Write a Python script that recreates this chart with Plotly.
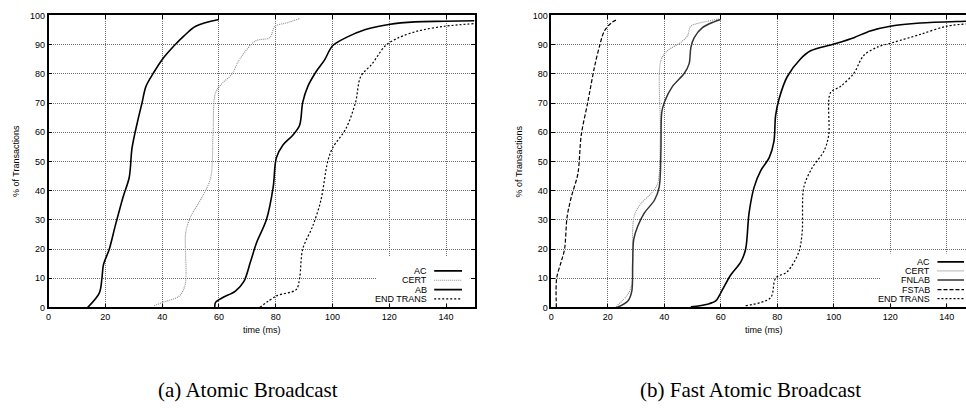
import plotly.graph_objects as go

# ---------------- data ----------------
# (a) Atomic Broadcast
ac_a_x = [13.8, 17.9, 18.8, 19.3, 21.4, 23.5, 26.3, 28.4, 29.4, 31.3, 32.9, 34.3, 37.2, 40.1, 44.2, 47.7, 51.8, 60.0]
ac_a_y = [0.0, 5, 10, 14.5, 20, 28, 38, 44.5, 54.6, 63.5, 70, 75.7, 80.7, 85, 89.6, 93, 96.3, 98.6]

cert_a_x = [37.2, 40.1, 46.0, 48.1, 48.3, 50.0, 54.2, 57.1, 57.9, 58.8, 61.2, 64.7, 66.4, 68.2, 72.9, 77.9, 79.7, 83.7, 88.4]
cert_a_y = [0.6, 1.7, 3.9, 7.8, 25.6, 31, 38, 44.5, 59, 73.5, 76.8, 80, 83.5, 86.3, 91.3, 92.4, 96.3, 97.4, 98.9]

ab_a_x = [58.5, 58.8, 61.2, 65.8, 68.8, 71.1, 73.3, 76.7, 79.1, 80.2, 82.6, 86.0, 88.4, 89.5, 91.3, 94.2, 97.1, 100.0, 104.7, 111.6, 119.8, 129.0, 139.5, 150]
ab_a_y = [0, 1.7, 3.3, 5.6, 8.9, 15.6, 22.3, 30, 41.2, 51.2, 55.7, 59, 62.4, 70.2, 75.7, 80.7, 84.6, 89.6, 92.4, 95.2, 96.9, 97.8, 98.0, 98.2]

end_a_x = [74.4, 80.2, 87.2, 88.4, 89.5, 93.0, 95.9, 98.3, 100.0, 104.7, 108.1, 109.9, 114.0, 118.6, 123.3, 130.2, 139.5, 150]
end_a_y = [0, 3.9, 6.1, 10, 20, 27.8, 36.7, 50, 54.6, 61.2, 70.2, 79, 83.5, 89.6, 92.4, 94.7, 96.3, 97.2]

# (b) Fast Atomic Broadcast
ac_b_x = [49.4, 55.3, 58.2, 60.0, 63.5, 67.1, 68.8, 70.0, 71.8, 74.1, 77.1, 78.8, 79.4, 80.6, 83.5, 88.2, 91.8, 100.0, 107.1, 112.9, 120.0, 130.6, 146.8, 150]
ac_b_y = [0.2, 1.1, 2.2, 5, 11.1, 15.6, 20, 32.3, 41.2, 46.8, 51.2, 56.8, 65.7, 71.3, 79, 85.1, 87.9, 90.2, 92.4, 94.7, 96.3, 97.4, 98.0, 98.1]

cert_b_x = [22.9, 27.1, 28.5, 29.3, 31.8, 35.3, 37.6, 38.6, 38.8, 41.2, 45.9, 48.2, 49.4, 55.3, 60.0]
cert_b_y = [0.2, 4.5, 7.8, 31.2, 35.6, 39, 42.3, 59, 84.6, 88, 90.8, 93, 96.3, 98, 98.9]

fnlab_b_x = [23.3, 27.1, 28.5, 28.8, 29.2, 30.6, 32.9, 36.5, 38.2, 38.8, 39.1, 40.0, 42.9, 47.1, 48.8, 49.4, 50.6, 53.5, 57.6, 60.0]
fnlab_b_y = [0, 2.2, 5.6, 14.5, 23.4, 27.8, 32.3, 36.7, 41.2, 53.5, 66.8, 70.2, 75.7, 80.2, 83.5, 89, 92.4, 95.8, 97.8, 98.6]

fstab_b_x = [1.8, 1.9, 3.5, 4.7, 5.6, 7.1, 9.4, 10.6, 12.9, 15.3, 17.1, 18.8, 21.2, 23.3]
fstab_b_y = [0, 10, 15.6, 20, 31, 37.9, 45.7, 59, 70.2, 82.4, 89.6, 94.7, 97.4, 98.6]

end_b_x = [68.8, 77.6, 79.4, 83.5, 87.6, 88.8, 89.4, 92.4, 96.5, 98.2, 98.8, 102.4, 107.1, 110.6, 115.3, 121.2, 130.6, 140.0, 150]
end_b_y = [0.6, 3.3, 10, 12.2, 18.9, 25.6, 41.2, 47.9, 53.5, 59, 73.5, 75.7, 80.2, 86.3, 89.1, 90.8, 93.5, 96.3, 97.3]

x_ticks = [0, 20, 40, 60, 80, 100, 120, 140]
y_ticks = [0, 10, 20, 30, 40, 50, 60, 70, 80, 90, 100]
x_title = "time (ms)"
y_title = "% of Transactions"
captions = ["(a) Atomic Broadcast", "(b) Fast Atomic Broadcast"]

# ---------------- styles ----------------
STY = {
    "AC": dict(color="black", width=1.6, dash="solid"),
    "CERT": dict(color="#8a8a8a", width=1.1, dash="1px,1px"),
    "AB": dict(color="black", width=1.6, dash="solid"),
    "FNLAB": dict(color="#333333", width=1.5, dash="solid"),
    "FSTAB": dict(color="black", width=1.2, dash="4px,2px"),
    "END TRANS": dict(color="black", width=1.2, dash="2px,2px"),
}

W, H = 966, 408
fig = go.Figure()

def add(x, y, name, xa, ya):
    s = STY[name]
    fig.add_trace(go.Scatter(
        x=x, y=y, mode="lines", name=name, showlegend=False, xaxis=xa, yaxis=ya,
        line=dict(color=s["color"], width=s["width"], dash=s["dash"], shape="spline", smoothing=0.9),
        hoverinfo="skip"))

add(ac_a_x, ac_a_y, "AC", "x", "y")
add(cert_a_x, cert_a_y, "CERT", "x", "y")
add(ab_a_x, ab_a_y, "AB", "x", "y")
add(end_a_x, end_a_y, "END TRANS", "x", "y")

add(ac_b_x, ac_b_y, "AC", "x2", "y2")
add(cert_b_x, cert_b_y, "CERT", "x2", "y2")
add(fnlab_b_x, fnlab_b_y, "FNLAB", "x2", "y2")
add(fstab_b_x, fstab_b_y, "FSTAB", "x2", "y2")
add(end_b_x, end_b_y, "END TRANS", "x2", "y2")

tickfont = dict(family="Liberation Sans, Arial, sans-serif", size=9, color="black")
ydom = [1 - 310 / H, 1 - 10.7 / H]

axis_common = dict(
    showline=True, linecolor="black", linewidth=1.5,
    ticks="inside", ticklen=4, tickcolor="black", tickwidth=1,
    showgrid=True, gridcolor="#6e6e6e", gridwidth=1, griddash="1px,1px",
    zeroline=False, tickfont=tickfont, fixedrange=True,
)

fig.update_layout(
    width=W, height=H, autosize=False,
    margin=dict(l=0, r=0, t=0, b=0),
    paper_bgcolor="white", plot_bgcolor="white",
    xaxis=dict(domain=[45.7 / W, 473 / W], range=[0, 150], tickvals=x_ticks, mirror="ticks", anchor="y", **axis_common),
    yaxis=dict(domain=ydom, range=[0, 100], tickvals=y_ticks, mirror="ticks", anchor="x", **axis_common),
    xaxis2=dict(domain=[550 / W, 1.0], range=[0, 146.8], tickvals=x_ticks, mirror="ticks", anchor="y2", **axis_common),
    yaxis2=dict(domain=ydom, range=[0, 100], tickvals=y_ticks, mirror=False, anchor="x2", **axis_common),
)

shapes = []
annotations = []

# white key boxes hiding the grid (as gnuplot does)
shapes.append(dict(type="rect", xref="x", yref="y", x0=115.5, x1=148.3, y0=1.6, y1=17.5,
                   fillcolor="white", line=dict(width=0), layer="above"))
shapes.append(dict(type="rect", xref="x2", yref="y2", x0=116.5, x1=146.8, y0=1.6, y1=18.5,
                   fillcolor="white", line=dict(width=0), layer="above"))

keyfont = dict(family="Liberation Sans, Arial, sans-serif", size=9, color="black")

def key(names, xr, yr, xtext, xl0, xl1, ys):
    for name, yy in zip(names, ys):
        s = STY[name]
        shapes.append(dict(type="line", xref=xr, yref=yr, x0=xl0, x1=xl1, y0=yy, y1=yy,
                           line=dict(color=s["color"], width=s["width"], dash=s["dash"]), layer="above"))
        annotations.append(dict(text=name, xref=xr, yref=yr, x=xtext, y=yy, xanchor="right",
                                yanchor="middle", showarrow=False, font=keyfont))

key(["AC", "CERT", "AB", "END TRANS"], "x", "y", 134.0, 135.8, 145.6, [12.5, 9.3, 6.1, 2.9])
key(["AC", "CERT", "FNLAB", "FSTAB", "END TRANS"], "x2", "y2", 134.7, 136.7, 146.1,
    [15.6, 12.5, 9.4, 6.1, 3.0])

titlefont = dict(family="Liberation Sans, Arial, sans-serif", size=9, color="black")
for xc in [259.4, 763]:
    annotations.append(dict(text=x_title, xref="paper", yref="paper", x=xc / W, y=1 - 333 / H,
                            xanchor="center", yanchor="middle", showarrow=False, font=titlefont))
for xc in [13, 518]:
    annotations.append(dict(text=y_title, xref="paper", yref="paper", x=xc / W, y=1 - 160 / H,
                            xanchor="center", yanchor="middle", textangle=-90, showarrow=False, font=titlefont))

capfont = dict(family="Liberation Serif, Times New Roman, serif", size=21, color="black")
for cap, xc in zip(captions, [246, 750]):
    annotations.append(dict(text=cap, xref="paper", yref="paper", x=xc / W, y=1 - 395 / H,
                            xanchor="center", yanchor="middle", showarrow=False, font=capfont))

fig.update_layout(shapes=shapes, annotations=annotations)
fig.write_html("out.html", config={"displayModeBar": False},
               post_script="document.body.style.margin='0';document.body.style.overflow='hidden';")
